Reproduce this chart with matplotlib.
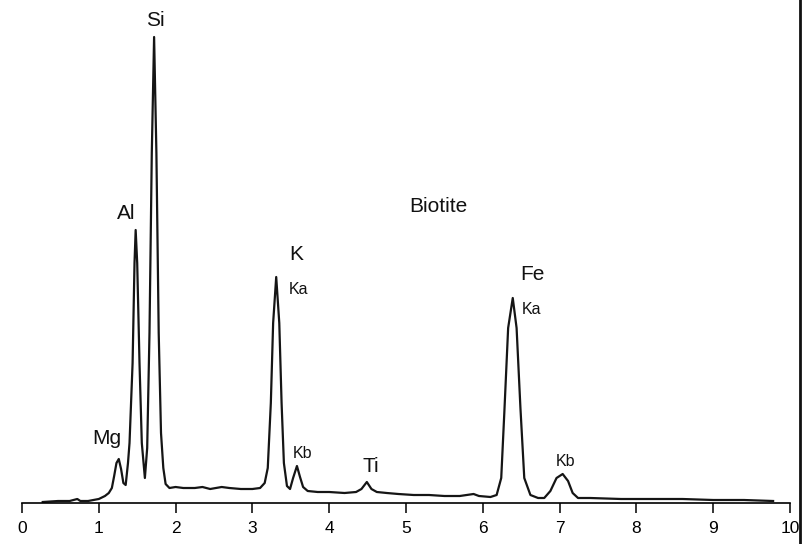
import matplotlib.pyplot as plt
from matplotlib.lines import Line2D

plt.rcParams['font.family'] = ['Liberation Sans', 'DejaVu Sans']

# EDS spectrum of biotite, traced: energy (keV) and intensity (arbitrary units)
energy_kev = [
    0.27, 0.47, 0.62, 0.72, 0.76, 0.86, 1.00, 1.08, 1.13, 1.17,
    1.20, 1.23, 1.26, 1.29, 1.32, 1.35, 1.38, 1.40, 1.44, 1.465,
    1.48, 1.50, 1.53, 1.56, 1.60, 1.63, 1.66, 1.69, 1.72, 1.75,
    1.78, 1.81, 1.84, 1.87, 1.92, 2.00, 2.10, 2.25, 2.35, 2.45,
    2.60, 2.70, 2.85, 3.00, 3.10, 3.16, 3.20, 3.24, 3.27, 3.31,
    3.35, 3.38, 3.41, 3.45, 3.49, 3.53, 3.58, 3.62, 3.66, 3.72,
    3.85, 4.00, 4.20, 4.35, 4.42, 4.49, 4.55, 4.62, 4.75, 4.90,
    5.10, 5.30, 5.50, 5.70, 5.88, 5.95, 6.10, 6.18, 6.24, 6.28,
    6.33, 6.39, 6.44, 6.49, 6.54, 6.62, 6.72, 6.80, 6.88, 6.96,
    7.04, 7.11, 7.17, 7.24, 7.40, 7.80, 8.20, 8.60, 9.00, 9.40,
    9.78,
]
intensity = [
    1, 2, 2, 4, 2, 2, 4, 7, 10, 15,
    27, 40, 44, 34, 20, 18, 40, 60, 140, 240,
    273, 240, 140, 60, 25, 55, 170, 350, 466, 350,
    170, 70, 35, 19, 15, 16, 15, 15, 16, 14,
    16, 15, 14, 14, 15, 20, 35, 100, 180, 226,
    180, 100, 40, 17, 14, 25, 37, 26, 16, 12,
    11, 11, 10, 11, 14, 21, 14, 11, 10, 9,
    8, 8, 7, 7, 9, 7, 6, 8, 25, 90,
    175, 205, 175, 95, 25, 8, 5, 5, 12, 25,
    29, 22, 10, 5, 5, 4, 4, 4, 3, 3,
    2,
]

# element labels: text, energy, intensity
elements = ['Mg', 'Al', 'Si', 'K', 'Ti', 'Fe']
element_x = [1.10, 1.36, 1.74, 3.57, 4.54, 6.65]
element_y = [65, 290, 483, 248, 37, 228]

# line labels (Ka / Kb)
lines = ['Ka', 'Kb', 'Ka', 'Kb']
line_x = [3.60, 3.65, 6.64, 7.08]
line_y = [213, 50, 194, 42]

fig = plt.figure(figsize=(8.11, 5.44), dpi=100)
ax = fig.add_axes([22 / 811, 41 / 544, 768 / 811, 503 / 544])

ax.plot(energy_kev, intensity, color='#151515', lw=1.6)

for name, x, y in zip(elements, element_x, element_y):
    ax.text(x, y, name, fontsize=15, ha='center', va='center', color='#111111')
for name, x, y in zip(lines, line_x, line_y):
    ax.text(x, y, name, fontsize=11.5, ha='center', va='center', color='#111111')
ax.text(5.42, 297, 'Biotite', fontsize=15, ha='center', va='center', color='#111111')

ax.set_xlim(0, 10)
ax.set_ylim(0, 503)
ax.set_xticks(range(0, 11))
ax.set_yticks([])
for side in ['top', 'left', 'right']:
    ax.spines[side].set_visible(False)
ax.spines['bottom'].set_linewidth(1.2)
ax.tick_params(axis='x', direction='out', length=7, width=1.1, pad=6,
               labelsize=12.5)

# border line on the right edge of the figure
fig.add_artist(Line2D([800 / 811, 800 / 811], [0, 1], color='#111111', lw=2,
                      transform=fig.transFigure))

fig.savefig('out.png', dpi=100)
